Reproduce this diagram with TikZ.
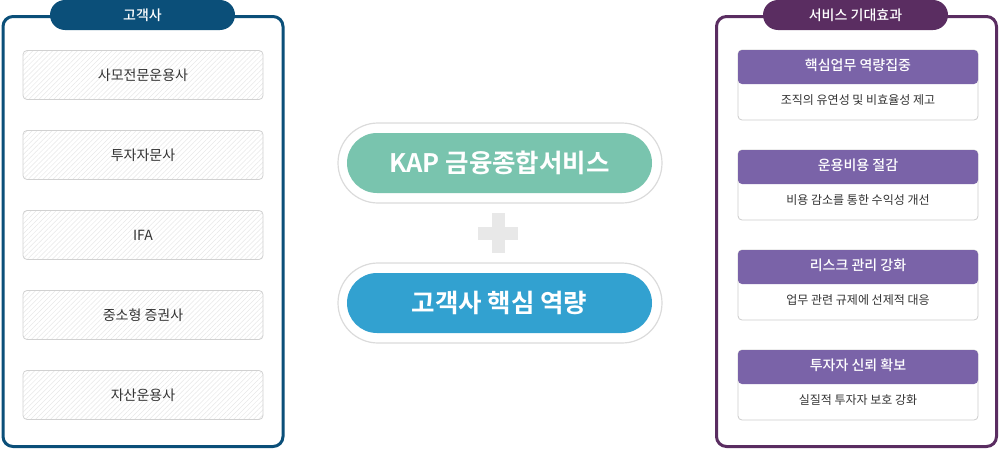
\documentclass[tikz,border=0pt]{standalone}
\usepackage{fontspec}
\setmainfont{Noto Sans CJK KR}[BoldFont={Noto Sans CJK KR Bold}]
\newfontfamily\medfont{Noto Sans CJK KR Medium}
\usetikzlibrary{patterns,patterns.meta}
\definecolor{clientblue}{HTML}{0B4F79}
\definecolor{effectpurple}{HTML}{5A2D61}
\definecolor{cardhead}{HTML}{7A63A8}
\definecolor{kapgreen}{HTML}{79C4AE}
\definecolor{coreblue}{HTML}{32A1D0}
\definecolor{plusgrey}{HTML}{E8E8E8}
\definecolor{txtgrey}{HTML}{333333}

\begin{document}
\begin{tikzpicture}[x=1pt,y=-1pt,
  tag/.style={rounded corners=15pt,minimum width=185pt,minimum height=30pt,inner sep=0pt,text=white,font=\medfont\fontsize{14}{14}\selectfont},
  client/.style={draw=black!18,line width=.8pt,rounded corners=4pt,minimum width=240pt,minimum height=49pt,inner sep=0pt,preaction={fill=white},pattern={Lines[angle=45,distance=3.5pt,line width=.5pt]},pattern color=black!9,text=txtgrey,font=\fontsize{14}{14}\selectfont},
  hub/.style={fill=white,draw=black!14,line width=1.2pt,rounded corners=40pt,minimum width=324pt,minimum height=80pt,inner sep=0pt},
  hubin/.style={rounded corners=30pt,minimum width=305pt,minimum height=60pt,inner sep=0pt,text=white,font=\bfseries\fontsize{25.5}{26}\selectfont}]
\useasboundingbox (0,0) rectangle (1000,450);
% customers
\draw[clientblue,line width=3pt,rounded corners=10pt] (3,16.5) rectangle (283,446.5);
\node[tag,fill=clientblue] (custtag) at (142.5,15) {고객사};
\node[client] (c1) at (143,75) {사모전문운용사};
\node[client] (c2) at (143,155) {투자자문사};
\node[client] (c3) at (143,235) {IFA};
\node[client] (c4) at (143,315) {중소형 증권사};
\node[client] (c5) at (143,395) {자산운용사};
% center
\node[hub] (kapout) at (500,163) {};
\node[hubin,fill=kapgreen] (kap) at (499.5,163) {KAP 금융종합서비스};
\fill[plusgrey] (478,227) rectangle (518,240);
\fill[plusgrey] (491.5,213) rectangle (504.5,253);
\node[hub] (coreout) at (500,303) {};
\node[hubin,fill=coreblue] (core) at (499.5,303) {고객사 핵심 역량};
% effects
\draw[effectpurple,line width=3pt,rounded corners=10pt] (716.5,16.5) rectangle (996.5,446.5);
\node[tag,fill=effectpurple] (efftag) at (855.5,15) {서비스 기대효과};
\draw[black!20,line width=.8pt,fill=white,rounded corners=4pt] (738,50) rectangle (978,120);
\fill[cardhead,rounded corners=4pt] (738,50) rectangle (978,84);
\fill[cardhead] (738,70) rectangle (978,80);
\node[text=white,font=\medfont\fontsize{14}{14}\selectfont] (e1) at (858,65) {핵심업무 역량집중};
\node[text=txtgrey,font=\fontsize{12}{12}\selectfont] (e1t) at (858,100) {조직의 유연성 및 비효율성 제고};
\draw[black!20,line width=.8pt,fill=white,rounded corners=4pt] (738,150) rectangle (978,220);
\fill[cardhead,rounded corners=4pt] (738,150) rectangle (978,184);
\fill[cardhead] (738,170) rectangle (978,180);
\node[text=white,font=\medfont\fontsize{14}{14}\selectfont] (e2) at (858,165) {운용비용 절감};
\node[text=txtgrey,font=\fontsize{12}{12}\selectfont] (e2t) at (858,200) {비용 감소를 통한 수익성 개선};
\draw[black!20,line width=.8pt,fill=white,rounded corners=4pt] (738,250) rectangle (978,320);
\fill[cardhead,rounded corners=4pt] (738,250) rectangle (978,284);
\fill[cardhead] (738,270) rectangle (978,280);
\node[text=white,font=\medfont\fontsize{14}{14}\selectfont] (e3) at (858,265) {리스크 관리 강화};
\node[text=txtgrey,font=\fontsize{12}{12}\selectfont] (e3t) at (858,300) {업무 관련 규제에 선제적 대응};
\draw[black!20,line width=.8pt,fill=white,rounded corners=4pt] (738,350) rectangle (978,420);
\fill[cardhead,rounded corners=4pt] (738,350) rectangle (978,384);
\fill[cardhead] (738,370) rectangle (978,380);
\node[text=white,font=\medfont\fontsize{14}{14}\selectfont] (e4) at (858,365) {투자자 신뢰 확보};
\node[text=txtgrey,font=\fontsize{12}{12}\selectfont] (e4t) at (858,400) {실질적 투자자 보호 강화};
\end{tikzpicture}
\end{document}
